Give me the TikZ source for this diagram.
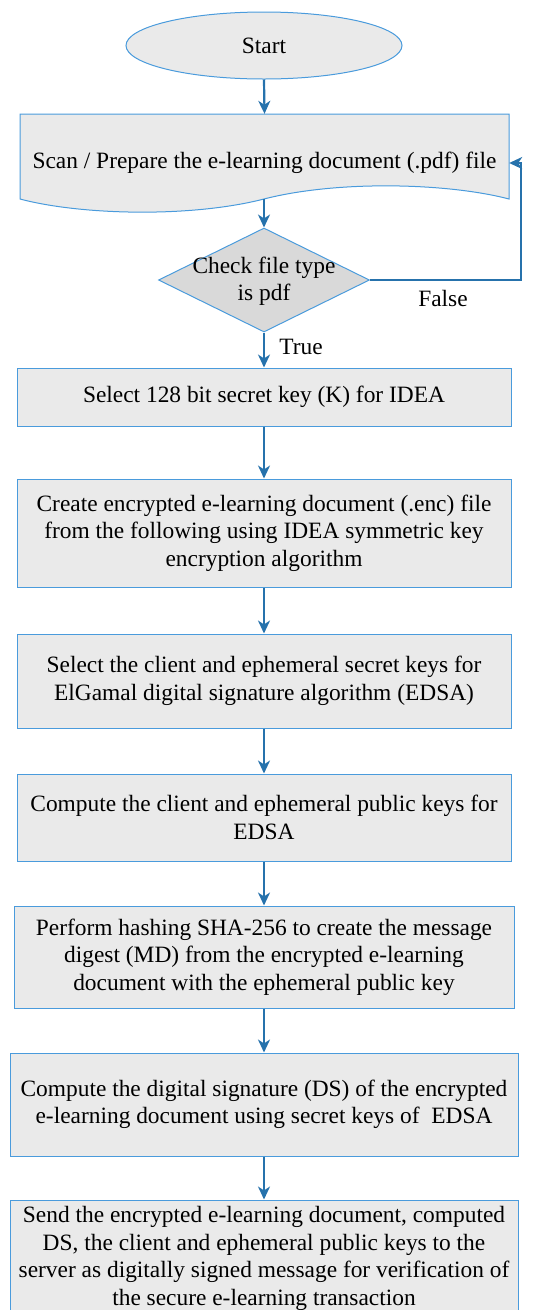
\documentclass[tikz,border=0pt]{standalone}
\usepackage{fontspec}
\setmainfont{Liberation Serif}
\usetikzlibrary{shapes.geometric,arrows.meta}
\definecolor{boxfill}{HTML}{EAEAEA}
\definecolor{boxline}{HTML}{4A9BDC}
\definecolor{arrowc}{HTML}{2672AC}
\definecolor{decfill}{HTML}{D9D9D9}
\begin{document}
\begin{tikzpicture}[x=1pt,y=-1pt,
  every node/.style={font=\fontsize{23.4}{27.5}\selectfont, text=black},
  procbox/.style={draw=boxline, fill=boxfill, line width=1pt, align=center, inner sep=0pt},
  arr/.style={draw=arrowc, line width=2.2pt, -{Stealth[length=13pt,width=12pt,inset=4pt]}}]
\useasboundingbox (0,0) rectangle (533,1310);

% start
\node[ellipse, draw=boxline, fill=boxfill, line width=1pt, minimum width=276pt, minimum height=67pt, inner sep=0pt] (start) at (264,45.5) {Start};

% document shape
\draw[boxline, fill=boxfill, line width=1pt] (20,114) -- (509,114) -- (509,199)
  .. controls (448,183) and (338,180) .. (264,199)
  .. controls (190,218) and (80,215) .. (20,199) -- cycle;
\node[align=center, minimum width=489pt, minimum height=98pt, inner sep=0pt] (doc) at (264.5,163) {Scan / Prepare the e-learning document (.pdf) file};
\coordinate (docb) at (264,199);

% decision
\node[diamond, draw=boxline, fill=decfill, line width=1pt, minimum width=211pt, minimum height=104pt, inner sep=0pt] (chk) at (264,280) {};
\node[align=center, inner sep=0pt] (chktxt) at (264,281) {Check file type\\is pdf};
\coordinate (loopc) at (521,280);

\node (false) at (443,298) {False};
\node (true) at (301,347) {True};

% process boxes
\node[procbox, minimum width=494pt, minimum height=58pt] (b1) at (264,397) {Select 128 bit secret key (K) for IDEA};
\node[procbox, minimum width=494pt, minimum height=108pt] (b2) at (264,533) {Create encrypted e-learning document (.enc) file\\from the following using IDEA symmetric key\\encryption algorithm};
\node[procbox, minimum width=494pt, minimum height=94pt] (b3) at (264,681) {Select the client and ephemeral secret keys for\\ElGamal digital signature algorithm (EDSA)};
\node[procbox, minimum width=494pt, minimum height=87pt] (b4) at (264,817.5) {Compute the client and ephemeral public keys for\\EDSA};
\node[procbox, minimum width=500pt, minimum height=102pt] (b5) at (264,957) {Perform hashing SHA-256 to create the message\\digest (MD) from the encrypted e-learning\\document with the ephemeral public key};
\node[procbox, minimum width=508pt, minimum height=103pt] (b6) at (264,1104.5) {Compute the digital signature (DS) of the encrypted\\e-learning document using secret keys of\ \ EDSA};
\node[procbox, minimum width=508pt, minimum height=117pt] (b7) at (264,1258.5) {Send the encrypted e-learning document, computed\\DS, the client and ephemeral public keys to the\\server as digitally signed message for verification of\\the secure e-learning transaction};

% connectors
\draw[arr] (start.south) -- (doc.north);
\draw[arr] (docb) -- (chk.north);
\draw[arr] (chk.east) -- (loopc) |- (doc.east);
\draw[arr] (chk.south) -- (b1.north);
\draw[arr] (b1.south) -- (b2.north);
\draw[arr] (b2.south) -- (b3.north);
\draw[arr] (b3.south) -- (b4.north);
\draw[arr] (b4.south) -- (b5.north);
\draw[arr] (b5.south) -- (b6.north);
\draw[arr] (b6.south) -- (b7.north);
\end{tikzpicture}
\end{document}
